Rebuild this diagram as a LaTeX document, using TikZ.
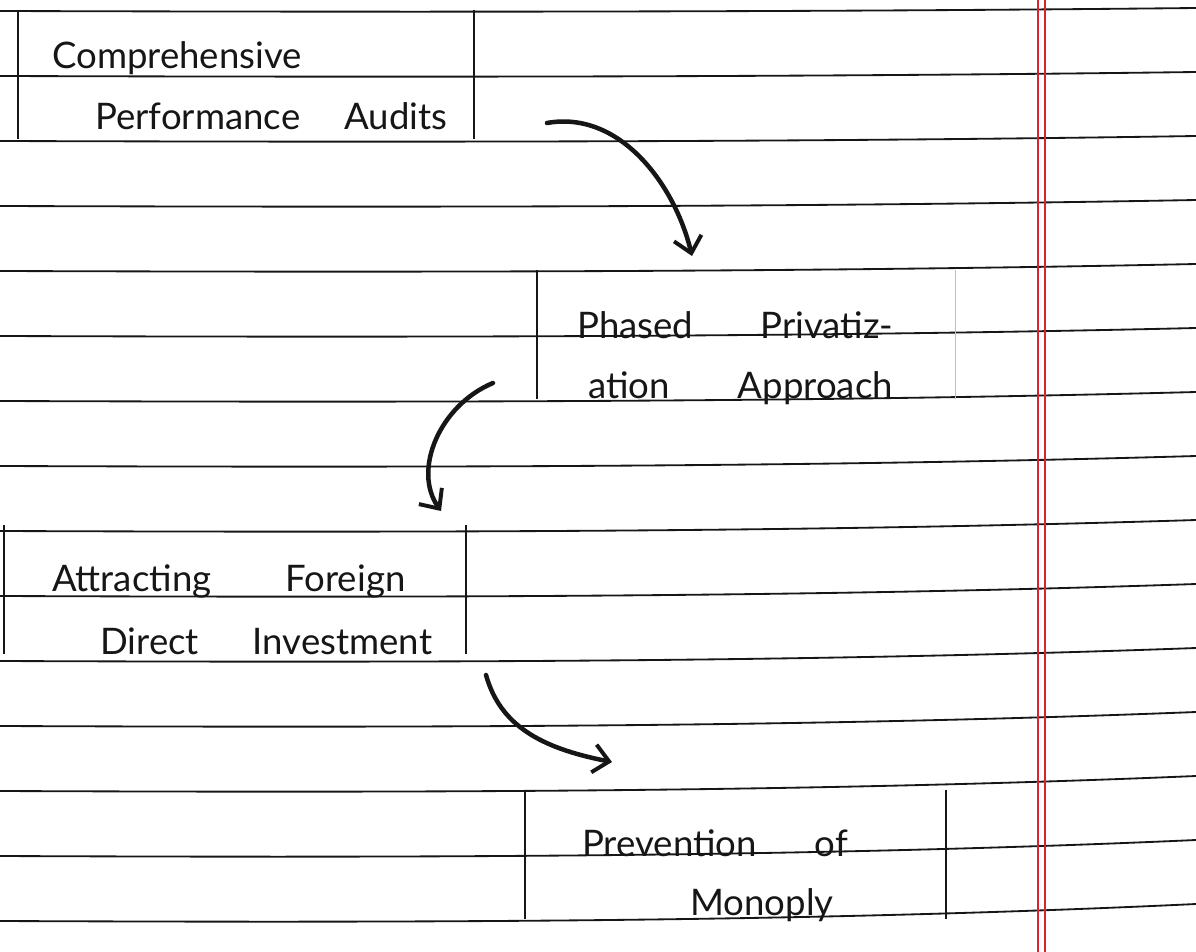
\documentclass[tikz,border=0pt]{standalone}
\usepackage{fontspec}
\setmainfont{Lato}
\usetikzlibrary{arrows.meta}
\definecolor{ink}{RGB}{22,22,22}
\definecolor{marginred}{RGB}{214,38,44}
\tikzset{
x=0.025cm, y=-0.025cm, % one unit is one pixel of the scanned page
rule/.style={line width=1.3pt, ink}, % ruled lines of the page
cell/.style={draw=none, minimum width=#1, minimum height=3.2cm, anchor=north west, inner sep=0pt},
cellside/.style={line width=1.6pt, ink}, % drawn sides of a box
faintside/.style={line width=0.9pt, gray!50},
hand/.style={font=\fontsize{26}{30}\selectfont, text=ink, anchor=base west, inner sep=0pt},
flow/.style={line width=3.2pt, ink, line cap=round,
  -{Straight Barb[length=11pt, width=20pt, line width=2.8pt]}},
}

\begin{document}
\begin{tikzpicture}
\useasboundingbox[fill=white] (0,0) rectangle (1196,952);

% ruled page
\foreach \i in {0,...,14} {
  \pgfmathsetmacro\yl{11+65*\i}
  \pgfmathsetmacro\yr{8+64*\i}
  \pgfmathsetmacro\yc{(\yl+\yr)/2+(2+0.4*\i)/0.75}
  \draw[rule] (0,\yl) .. controls (400,\yc) and (800,\yc) .. (1196,\yr);
}
\draw[marginred, line width=0.8pt] (1038,0) -- (1038,952) (1045,0) -- (1045,952);

% boxes
\node[cell=11.375cm] (audit) at (18,10) {};
\node[cell=10.45cm] (phase) at (537,270) {};
\node[cell=11.525cm] (fdi) at (4,525) {};
\node[cell=10.5cm] (monop) at (525,790) {};
\draw[cellside] (audit.north west) -- (audit.south west) (audit.north east) -- (audit.south east);
\draw[cellside] (phase.north west) -- (phase.south west);
\draw[faintside] (phase.north east) -- (phase.south east);
\draw[cellside] (fdi.north west) -- (fdi.south west) (fdi.north east) -- (fdi.south east);
\draw[cellside] (monop.north west) -- (monop.south west) (monop.north east) -- (monop.south east);

% texts
\node[hand] (audit1) at (52,69) {Comprehensive};
\node[hand] (audit2) at (95,130) {Performance\hspace{1.1cm}Audits};
\node[hand] (phase1) at (577,338) {Phased\hspace{1.68cm}Privatiz-};
\node[hand] (phase2) at (588,398) {ation\hspace{1.7cm}Approach};
\node[hand] (fdi1) at (52,591) {Attracting\hspace{1.85cm}Foreign};
\node[hand] (fdi2) at (100,654) {Direct\hspace{1.35cm}Investment};
\node[hand] (monop1) at (582,856) {Prevention\hspace{1.45cm}of};
\node[hand] (monop2) at (690,915) {Monoply};

% arrows
\coordinate (a1s) at (547,123);
\coordinate (a1e) at (692,256);
\coordinate (a2s) at (493,383);
\coordinate (a2e) at (441,511);
\coordinate (a3s) at (486,675);
\coordinate (a3e) at (612,762);
\draw[flow] (a1s) .. controls (620,110) and (675,185) .. (a1e);
\draw[flow] (a2s) .. controls (440,405) and (412,470) .. (a2e);
\draw[flow] (a3s) .. controls (500,725) and (540,748) .. (a3e);
\end{tikzpicture}
\end{document}
